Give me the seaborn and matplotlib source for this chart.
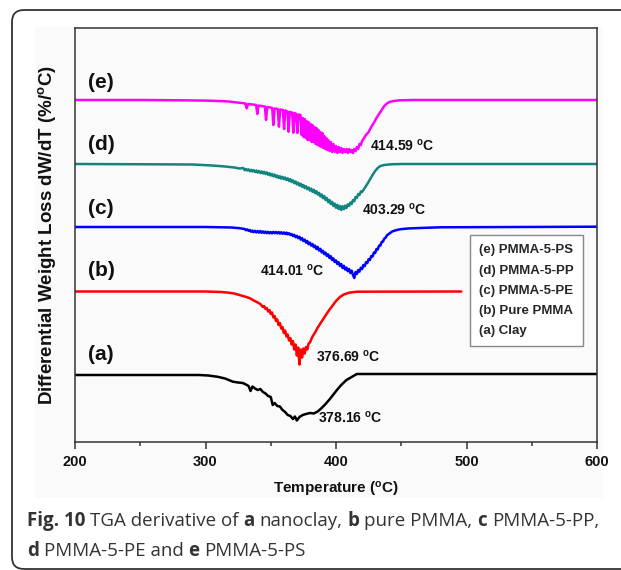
import matplotlib
matplotlib.use("Agg")
import numpy as np
import pandas as pd
import seaborn as sns
import matplotlib.pyplot as plt
from matplotlib.patches import FancyBboxPatch, Rectangle
from matplotlib.transforms import IdentityTransform
from matplotlib.lines import Line2D
from matplotlib.ticker import MultipleLocator

# ---------------- data (temperature in degC, depth of dip below each baseline, arb. units)
T_e = [200, 250, 280, 300, 310, 318, 324, 328, 330.5, 331.5, 332.5, 336, 338.8, 339.7, 340.6,
       343, 345.5, 346.4, 347.3, 349.5, 351.1, 352, 352.9, 355.4, 356.3, 357.2, 359.3, 360.2, 361.1,
       362.8, 363.7, 364.6, 366.4, 367.3, 368.2, 369.5, 370.4, 371.3, 372.8, 373.7, 374.5, 375.3,
       376, 376.8, 377.5, 378.3, 379, 379.8, 380.5, 381.3, 382, 382.8, 383.5, 384.3, 385, 385.8,
       386.5, 387.3, 388, 388.8, 389.5, 390.3, 391, 391.8, 392.5, 393.3, 394, 395, 396, 397, 398,
       399, 400, 401, 402, 403, 404, 405, 406, 407, 408, 409, 410, 411, 412, 413, 414, 415, 416,
       417, 418, 419, 420, 421, 423, 425, 427, 429, 431, 433, 435, 437, 439, 441, 444, 449, 460, 600]
d_e = [0, 0, 0.3, 0.6, 1, 1.5, 2.5, 3, 3.5, 8.3, 4, 4.5, 5, 14, 5.5,
       6, 6.5, 20, 7, 7.5, 8, 25, 8.5, 9, 26.7, 9.5, 10, 29, 10.5,
       11.5, 31.7, 12, 12.5, 32.7, 13, 14, 33, 14.5, 15, 35, 18, 37,
       19, 38, 21, 40, 22, 40, 24, 42, 25, 42, 27, 44, 28, 45,
       30, 46, 32, 47, 33, 48, 36, 49, 38, 50, 40, 51, 42, 52, 44,
       52, 46, 53, 47, 52, 48, 53, 49, 52, 49, 53, 49, 52, 50, 53, 49, 51, 47,
       49, 44, 45, 41, 39, 35, 32, 27, 23, 18, 14, 10, 6, 3.5, 2, 1, 0.3, 0, 0]

T_d = [200, 260, 290, 305, 315, 322, 326,
       329, 330, 331, 332, 333, 334, 335, 336, 337, 338, 339, 340, 341, 342, 343, 344, 345, 346,
       347, 348, 349, 350, 351, 352, 353, 354, 355, 356, 357, 358, 359, 360, 361, 362, 363, 364,
       365, 366, 367, 368, 369, 370, 371, 372, 373, 374, 375, 376, 377, 378, 379, 380, 381, 382,
       383, 384, 385, 386, 387, 388, 389, 390, 391, 392, 393, 394, 395, 396, 397, 398, 399, 400,
       401, 402, 403, 404, 405, 406, 407, 408, 409, 410, 411, 412, 413, 414, 415, 416, 417, 418,
       419, 420, 422, 424, 426, 428, 430, 432, 434, 437, 442, 450, 600]
d_d = [0, 0.3, 0.5, 1.5, 2.5, 3.5, 4.5,
       4.0, 6.2, 5.0, 6.5, 5.3, 7.2, 5.8, 7.5, 6.2, 8.0, 6.5, 8.6, 7.0, 9.0, 7.4, 9.5, 7.8, 10.0,
       8.4, 10.8, 9.2, 11.6, 9.9, 12.3, 10.6, 13.2, 11.5, 14.0, 12.2, 14.6, 12.8, 15.2, 13.5, 16.0, 14.3, 17.0,
       15.2, 18.0, 16.3, 19.2, 17.4, 20.4, 18.6, 21.6, 19.7, 22.8, 21.0, 24.0, 22.2, 25.2, 23.5, 26.6, 24.6, 27.8,
       25.8, 29.2, 27.2, 30.6, 28.8, 32.4, 30.4, 34.2, 32.0, 36.0, 34.0, 38.2, 36.0, 40.0, 37.8, 42.0, 39.6, 43.8,
       40.8, 45.0, 42.0, 46.0, 42.2, 45.2, 41.6, 44.0, 40.4, 42.0, 38.6, 40.0, 36.0, 37.2, 33.0, 34.0, 30.0, 31.0,
       27.5, 28.0, 24, 20, 15.5, 11, 7, 4, 2, 1, 0.3, 0, 0]

T_c = [200, 300, 320, 326,
       330, 331, 332, 333, 334, 335, 336, 337, 338, 339, 340, 341, 342, 343, 344, 345, 346, 347,
       348, 349, 350, 351, 352, 353, 354, 355, 356, 357, 358, 359, 360, 361, 362, 363, 364, 365,
       366, 367, 368, 369, 370, 371, 372, 373, 374, 375, 376, 377, 378, 379, 380, 381, 382, 383,
       384, 385, 386, 387, 388, 389, 390, 391, 392, 393, 394, 395, 396, 397, 398, 399, 400, 401,
       402, 403, 404, 405, 406, 407, 408, 409, 410, 411, 412, 413, 414, 415, 416, 417, 418, 419,
       420, 421, 422, 423, 424, 425, 426, 427, 428, 429, 430, 431, 432, 433, 434, 435, 436, 437,
       438, 439, 440, 443, 446, 449, 455, 464, 480, 600]
d_c = [0, 0, 0.5, 1.2,
       2.0, 3.2, 2.4, 3.8, 3.0, 4.8, 3.6, 5.2, 3.8, 5.4, 4.0, 5.6, 4.0, 5.8, 4.4, 6.0, 4.6, 6.2,
       4.8, 6.4, 5.0, 6.4, 4.8, 6.2, 5.0, 6.4, 5.0, 6.6, 5.2, 6.8, 5.4, 7.0, 5.6, 7.4, 6.2, 8.0,
       7.0, 9.0, 7.8, 10.2, 8.8, 11.2, 9.8, 12.6, 11.2, 14.0, 12.6, 15.6, 14.0, 17.2, 15.6, 18.6, 17.0, 20.2,
       18.6, 22.0, 20.0, 23.6, 21.8, 25.4, 23.8, 27.2, 25.6, 29.0, 27.4, 31.0, 29.2, 33.0, 31.4, 35.0, 33.4, 37.0,
       35.2, 39.0, 37.0, 41.0, 38.8, 42.6, 40.6, 44.2, 42.0, 46.0, 43.6, 48.0, 51.0, 45.0, 47.0, 43.0, 44.6, 40.8,
       42.0, 38.0, 39.2, 35.2, 36.0, 32.2, 33.0, 29.0, 29.6, 25.6, 26.0, 22.0, 22.4, 18.6, 18.6, 15.0, 14.6, 11.6,
       10.8, 8.4, 7.4, 4.5, 3.2, 2.3, 1.5, 1, 0.3, -0.3]

T_b = [200, 300, 312, 318, 322, 326, 330, 334, 337, 340, 342,
       343, 344, 345, 346, 347, 348, 349, 350, 351, 352, 353, 354, 355, 356, 357, 358, 359, 360,
       361, 362, 363, 364, 365, 366, 367, 368, 369, 370, 371, 372, 373, 374, 375, 376, 377, 378,
       379, 380, 382, 384, 386, 388, 390, 392, 394, 396, 398, 400, 403, 406, 410, 416, 496]
d_b = [0, 0, 0.5, 1.2, 2, 3.5, 5, 6.7, 9, 11, 12.5,
       14, 15.5, 14.6, 17.5, 16.5, 20, 18.5, 22.5, 21.0, 26, 24.5, 29.5, 28.0, 33.5, 31.5, 37.0, 35.5, 41.5,
       39.0, 45.0, 43.0, 49.0, 46.5, 53.0, 49.5, 58.0, 53.0, 64.0, 56.0, 73.0, 58.0, 66.0, 57.0, 62.0, 55.5, 58.0,
       52.0, 51.0, 45, 41, 36, 32, 28, 24, 20, 16.5, 13, 9.5, 5.5, 3, 1.2, 0.2, 0]

T_a = [200, 295, 302, 309, 315, 321, 325, 328.5, 331, 333, 334.5, 336, 338, 340, 342, 344, 346,
       348, 350, 351.5, 353, 355, 357, 359, 361, 363, 365, 367, 368.5, 370, 372, 374.5, 377, 380,
       383, 386, 389, 392, 395, 398, 401, 404, 408, 412, 416, 600]
d_a = [0, 0, 0.5, 1.7, 3.5, 6.7, 7.5, 8, 9.5, 11, 16, 11.5, 13.5, 15, 14, 17, 18.5,
       21, 22, 30, 28, 31, 31.5, 35, 37, 40, 41, 44, 41.5, 45.5, 42, 40, 39, 38,
       38.5, 36.5, 33, 29, 24.5, 19.5, 14.5, 10, 5, 2, -1, -1]

series_keys = ["e", "d", "c", "b", "a"]
baselines = [342, 278, 215, 150.5, 67]
colors = ["#ff00ff", "#11857f", "#0000ff", "#ff0000", "#000000"]
curve_labels = ["(e)", "(d)", "(c)", "(b)", "(a)"]
label_y = [360, 297, 234, 171, 88]
peak_texts = ["414.59", "403.29", "414.01", "376.69", "378.16"]
peak_x = [426, 420, 341.8, 384.7, 386.2]
peak_y = [291, 227, 166, 80, 19.5]
legend_labels = ["(e) PMMA-5-PS", "(d) PMMA-5-PP", "(c) PMMA-5-PE", "(b) Pure PMMA", "(a) Clay"]
x_ticks = [200, 300, 400, 500, 600]

data = {"e": (T_e, d_e), "d": (T_d, d_d), "c": (T_c, d_c), "b": (T_b, d_b), "a": (T_a, d_a)}

# ---------------- style
sns.set_style("white")
plt.rcParams["font.family"] = ["Liberation Sans", "DejaVu Sans"]
plt.rcParams["mathtext.default"] = "regular"

fig = plt.figure(figsize=(6.21, 5.70), dpi=100)
W, H = 621, 570
ax = fig.add_axes([75 / W, 1 - 442 / H, 522 / W, 414 / H])
ax.set_facecolor("none")

bg = Rectangle((35, H - 498), 568, 471, transform=IdentityTransform(),
               facecolor="#fafafa", edgecolor="none", zorder=-10)
fig.add_artist(bg)
frame = FancyBboxPatch((12, 1), 700, 559, boxstyle="round,pad=0,rounding_size=12",
                       transform=IdentityTransform(), facecolor="none",
                       edgecolor="#333333", linewidth=1.3, zorder=-5)
fig.add_artist(frame)

for key, base, col in zip(series_keys, baselines, colors):
    T, d = data[key]
    df = pd.DataFrame({"T": T, "v": base - np.asarray(d, dtype=float)})
    sns.lineplot(data=df, x="T", y="v", color=col, linewidth=1.8, ax=ax,
                 estimator=None, sort=False)

ax.set_xlim(200, 600)
ax.set_ylim(0, 414)
ax.set_yticks([])
ax.set_xticks(x_ticks)
ax.xaxis.set_minor_locator(MultipleLocator(50))
ax.tick_params(axis="x", which="major", direction="out", length=5, width=1.1,
               bottom=True, labelsize=10.5, pad=4, color="#333333", labelcolor="#111111")
ax.tick_params(axis="x", which="minor", direction="out", length=2.8, width=1.1,
               bottom=True, color="#333333")
for lbl in ax.get_xticklabels():
    lbl.set_fontweight("bold")
for s in ax.spines.values():
    s.set_visible(True)
    s.set_color("#333333")
    s.set_linewidth(1.1)

ax.set_xlabel("Temperature ($^{o}$C)", fontsize=11, fontweight="bold", labelpad=8, color="#111111")
ax.set_ylabel("Differential Weight Loss dW/dT (%/$^{o}$C)", fontsize=13.5, fontweight="bold",
              labelpad=12, color="#111111")

for lab, ly in zip(curve_labels, label_y):
    ax.text(210, ly, lab, fontsize=15, fontweight="bold", va="center", ha="left", color="#111111")
for txt, px, py in zip(peak_texts, peak_x, peak_y):
    ax.text(px, py, txt + " $^{o}$C", fontsize=10, fontweight="bold", va="baseline",
            ha="left", color="#111111")

handles = [Line2D([], [], linestyle="none") for _ in legend_labels]
leg = ax.legend(handles, legend_labels, loc="upper left",
                bbox_to_anchor=((470 - 75) / 522, (442 - 235) / 414),
                handlelength=0, handletextpad=0, borderpad=0.7, labelspacing=0.6,
                frameon=True, fancybox=False, edgecolor="#888888", framealpha=1,
                prop={"weight": "bold", "size": 9.5}, borderaxespad=0)
leg.get_frame().set_linewidth(1.0)
leg.get_frame().set_facecolor("white")

# ---------------- caption
renderer = fig.canvas.get_renderer()
cap_size = 13.5


def rich_line(x, y, parts, size):
    gap = 0.26 * size * 100 / 72
    for s, bold in parts:
        t = fig.text(x, y, s, transform=IdentityTransform(), fontsize=size,
                     fontweight="bold" if bold else "normal",
                     family=["Open Sans", "DejaVu Sans"], color="#333333",
                     va="baseline", ha="left")
        ext = t.get_window_extent(renderer=renderer)
        x = ext.x1 + gap


line1 = [("Fig. 10", True), ("TGA derivative of", False), ("a", True), ("nanoclay,", False),
         ("b", True), ("pure PMMA,", False), ("c", True), ("PMMA-5-PP,", False)]
line2 = [("d", True), ("PMMA-5-PE and", False), ("e", True), ("PMMA-5-PS", False)]
rich_line(27, H - 526, line1, cap_size)
rich_line(27, H - 556, line2, cap_size)

fig.savefig("out.png", dpi=100)
